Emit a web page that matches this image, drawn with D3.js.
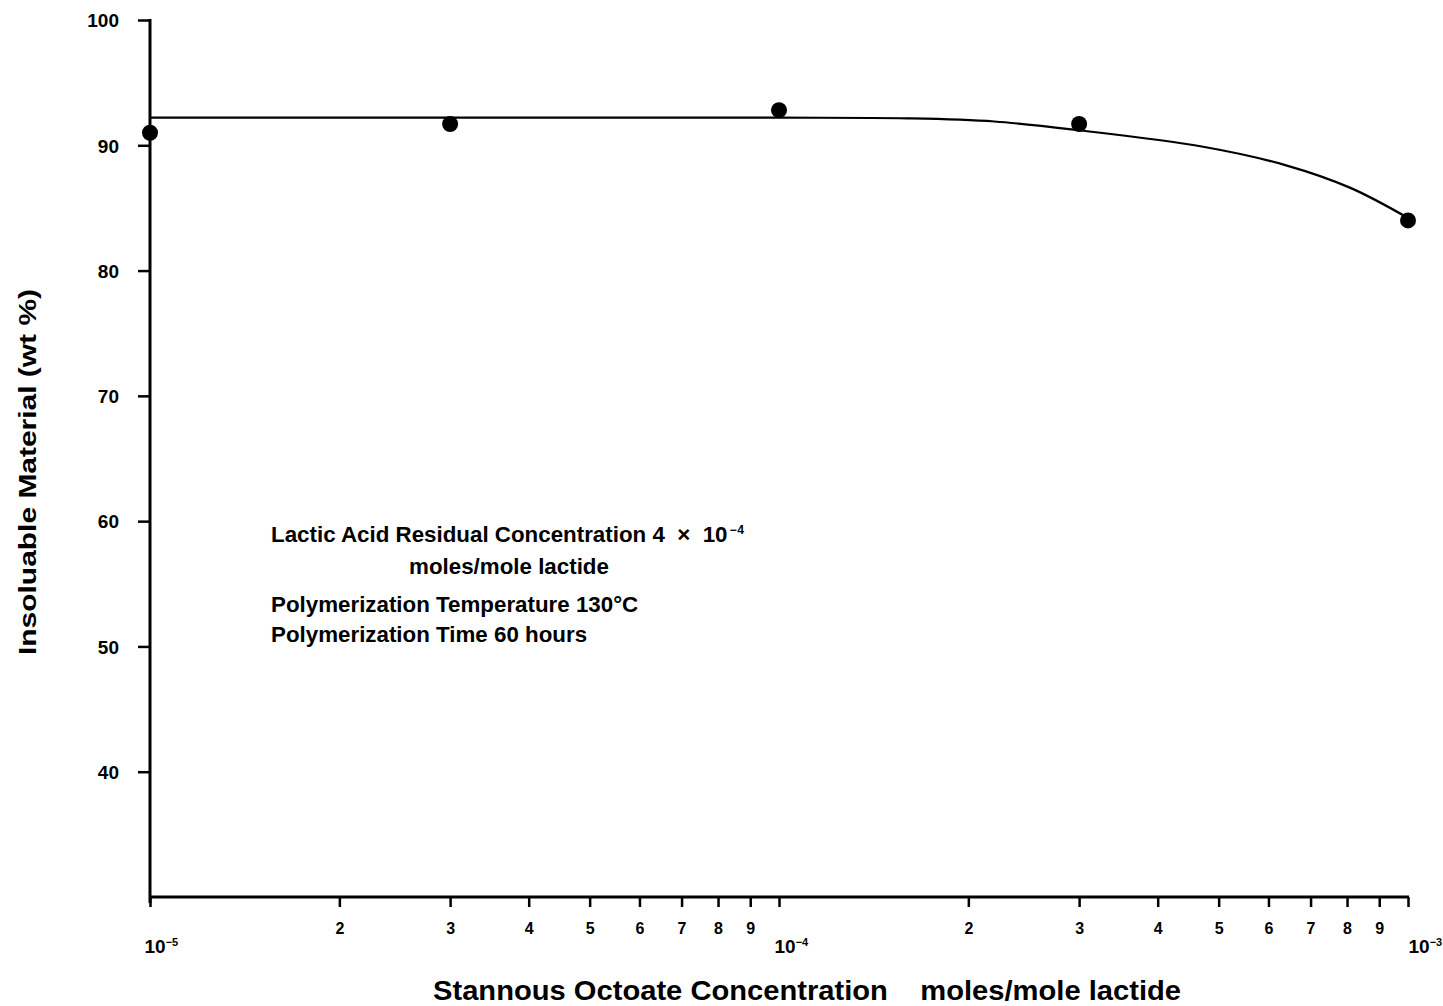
<!DOCTYPE html>
<html>
<head>
<meta charset="utf-8">
<script src="https://cdn.jsdelivr.net/npm/d3@7"></script>
<style>
  body { margin: 0; background: #fff; }
  text { font-family: "Liberation Sans", Arial, sans-serif; font-weight: bold; fill: #000; }
</style>
</head>
<body>
<svg id="chart" width="1443" height="1006"></svg>
<script>
/* measured points */
var concentrations = [1e-5, 3e-5, 1e-4, 3e-4, 1e-3];
var insoluble = [91.0, 91.7, 92.8, 91.7, 84.0];

/* hand drawn trend curve */
var curveX = [1e-5, 3e-5, 1e-4, 1.6e-4, 2.2e-4, 3e-4, 4.7e-4, 6.4e-4, 8.1e-4, 1e-3];
var curveY = [92.2, 92.2, 92.2, 92.15, 91.9, 91.2, 89.9, 88.4, 86.6, 84.2];

var yTicks = [40, 50, 60, 70, 80, 90, 100];
var xTicks = [1e-5, 2e-5, 3e-5, 4e-5, 5e-5, 6e-5, 7e-5, 8e-5, 9e-5,
              1e-4, 2e-4, 3e-4, 4e-4, 5e-4, 6e-4, 7e-4, 8e-4, 9e-4, 1e-3];

var notes = ["Lactic Acid Residual Concentration 4 \u00D7 10", "moles/mole lactide",
             "Polymerization Temperature 130\u00B0C", "Polymerization Time 60 hours"];

var svg = d3.select("#chart");

var x = d3.scaleLog().domain([1e-5, 1e-3]).range([150, 1408]);
var y = d3.scaleLinear().domain([30, 100]).range([897, 20]);

/* y axis */
var yAxis = d3.axisLeft(y).tickValues(yTicks).tickSize(12).tickPadding(19).tickFormat(d3.format("d"));
var gy = svg.append("g").attr("transform", "translate(" + x(1e-5) + ",0)").call(yAxis);
gy.select(".domain").remove();
gy.selectAll(".tick line").attr("stroke-width", 2.5);
gy.selectAll(".tick text").style("font-size", "19px").attr("dy", "0.36em");

/* x axis */
var xAxis = d3.axisBottom(x).tickValues(xTicks).tickSize(10).tickFormat("");
var gx = svg.append("g").attr("transform", "translate(0," + y(30) + ")").call(xAxis);
gx.select(".domain").remove();
gx.selectAll(".tick line").attr("stroke-width", 2.5);

gx.selectAll(".tick").each(function(d) {
  var exp = Math.floor(Math.log10(d) + 1e-9);
  var lead = Math.round(d / Math.pow(10, exp));
  var t = d3.select(this).select("text").style("font-size", "16px");
  if (lead === 1) {
    t.attr("y", 45).attr("text-anchor", "start")
      .attr("dx", d === 1e-5 ? -6 : (d === 1e-3 ? 0 : -5));
    t.append("tspan").text("10").style("font-size", "19px");
    t.append("tspan").text("\u2212" + (-exp)).attr("dy", -7).style("font-size", "11px");
  } else {
    t.attr("y", 26).text(lead);
  }
});

/* axis lines */
svg.append("line").attr("x1", x(1e-5)).attr("x2", x(1e-5)).attr("y1", y(100) - 1).attr("y2", y(30) + 6)
  .attr("stroke", "#000").attr("stroke-width", 3);
svg.append("line").attr("x1", x(1e-5)).attr("x2", x(1e-3) + 1).attr("y1", y(30)).attr("y2", y(30))
  .attr("stroke", "#000").attr("stroke-width", 3);

/* trend curve */
var line = d3.line()
  .x(function(d) { return x(d); })
  .y(function(d, i) { return y(curveY[i]); })
  .curve(d3.curveCatmullRom.alpha(0.5));
svg.append("path").datum(curveX).attr("fill", "none").attr("stroke", "#000")
  .attr("stroke-width", 2.2).attr("d", line);

/* points */
svg.selectAll("circle.pt").data(concentrations).enter().append("circle")
  .attr("class", "pt")
  .attr("cx", function(d) { return x(d); })
  .attr("cy", function(d, i) { return y(insoluble[i]); })
  .attr("r", 8).attr("fill", "#000");

/* annotation: condensed font, one common horizontal scale */
var ann = svg.append("g").style("font-size", "22px");
var l1 = ann.append("text").attr("x", 0).attr("y", 542).attr("xml:space", "preserve")
  .text(notes[0].replace(" \u00D7 ", "  \u00D7  "));
var sx = 457 / l1.node().getComputedTextLength();
ann.attr("transform", "translate(271,0) scale(" + sx + ",1)");
ann.append("text").attr("x", 457 / sx + 2).attr("y", 534).style("font-size", "12px").text("\u22124");
ann.append("text").attr("x", (509 - 271) / sx).attr("y", 574).attr("text-anchor", "middle").text(notes[1]);
ann.append("text").attr("x", 0).attr("y", 612).text(notes[2]);
ann.append("text").attr("x", 0).attr("y", 642).text(notes[3]);

/* axis titles */
svg.append("text").attr("x", 807).attr("y", 1000).attr("text-anchor", "middle")
  .style("font-size", "27px").attr("textLength", 748).attr("lengthAdjust", "spacingAndGlyphs")
  .attr("xml:space", "preserve")
  .text("Stannous Octoate Concentration    moles/mole lactide");

svg.append("text").attr("transform", "translate(36,472)rotate(-90)").attr("text-anchor", "middle")
  .style("font-size", "24px").attr("textLength", 366).attr("lengthAdjust", "spacingAndGlyphs")
  .text("Insoluable Material (wt %)");
</script>
</body>
</html>
